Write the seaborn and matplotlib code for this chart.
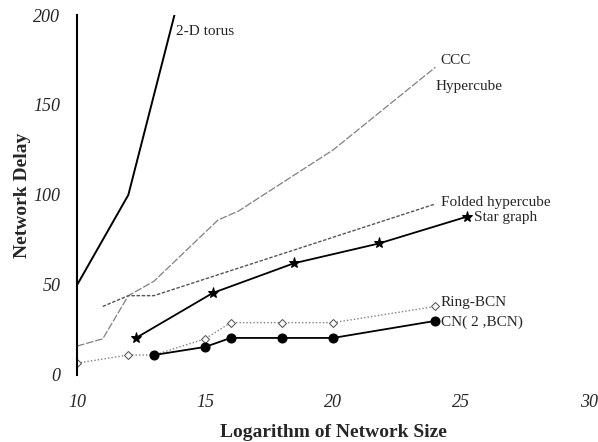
import numpy as np
import pandas as pd
import matplotlib.pyplot as plt
import seaborn as sns

sns.set_style("white")
plt.rcParams['font.family'] = ['Liberation Serif', 'DejaVu Serif']

# values
torus_x = [10, 12, 14]
torus_y = [50, 100, 211]

ccc_x = [10, 11, 12, 13, 15.5, 16.3, 20, 24]
ccc_y = [16, 20, 44, 52, 86, 91, 125, 171]

folded_x = [11, 12, 13, 24]
folded_y = [38, 44, 44, 95]

star_x = [12.30, 15.30, 18.47, 21.79, 25.25]
star_y = [20.5, 45.5, 62, 73, 88]

ring_x = [10, 12, 13, 15, 16, 18, 20, 24]
ring_y = [6.5, 11, 11, 20, 29, 29, 29, 38]

cn_x = [13, 15, 16, 18, 20, 24]
cn_y = [11, 15.5, 20.5, 20.5, 20.5, 30]

labels = ["2-D torus", "CCC", "Hypercube", "Folded hypercube", "Star graph", "Ring-BCN", "CN( 2 ,BCN)"]

fig = plt.figure(figsize=(5.98, 4.42), dpi=100)
ax = fig.add_axes([0.129, 0.152, 0.856, 0.814])

def draw(x, y, **kw):
    df = pd.DataFrame({"x": x, "y": y})
    sns.lineplot(data=df, x="x", y="y", ax=ax, estimator=None, sort=False, **kw)

draw(torus_x, torus_y, color="black", lw=1.4)
draw(ccc_x, ccc_y, color="#808080", lw=0.9, dashes=(6, 1.5))
draw(folded_x, folded_y, color="#555555", lw=1.0, dashes=(2.5, 1.2))
draw(star_x, star_y, color="black", lw=1.3, marker="*", markersize=8, markeredgecolor="black")
draw(ring_x, ring_y, color="#808080", lw=1.0, dashes=(1, 1.5), marker="D", markersize=4,
     markerfacecolor="white", markeredgecolor="#555555")
draw(cn_x, cn_y, color="black", lw=1.3, marker="o", markersize=6.5, markeredgecolor="black")

# series labels
fs = 11
ax.text(13.85, 191, labels[0], fontsize=fs, va="center")
ax.text(24.2, 175, labels[1], fontsize=fs, va="center")
ax.text(24.0, 160, labels[2], fontsize=fs, va="center")
ax.text(24.2, 96, labels[3], fontsize=fs, va="center")
ax.text(25.5, 87.5, labels[4], fontsize=fs, va="center")
ax.text(24.2, 40, labels[5], fontsize=fs, va="center")
ax.text(24.2, 29, labels[6], fontsize=fs, va="center")

ax.set_xlim(10, 30)
ax.set_ylim(0, 200)
ax.set_xticks([10, 15, 20, 25, 30])
ax.set_yticks([0, 50, 100, 150, 200])
ax.tick_params(axis="both", length=0, labelsize=13)
ax.tick_params(axis="x", pad=14)
ax.tick_params(axis="y", pad=12)
for t in ax.get_xticklabels() + ax.get_yticklabels():
    t.set_fontstyle("italic")

for s in ["top", "right", "bottom"]:
    ax.spines[s].set_visible(False)
ax.spines["left"].set_linewidth(1.5)
ax.spines["left"].set_color("black")

ax.set_xlabel("Logarithm of Network Size", fontsize=14, fontweight="bold", labelpad=9)
ax.set_ylabel("Network Delay", fontsize=14, fontweight="bold", labelpad=2)

fig.savefig("out.png", dpi=100)
